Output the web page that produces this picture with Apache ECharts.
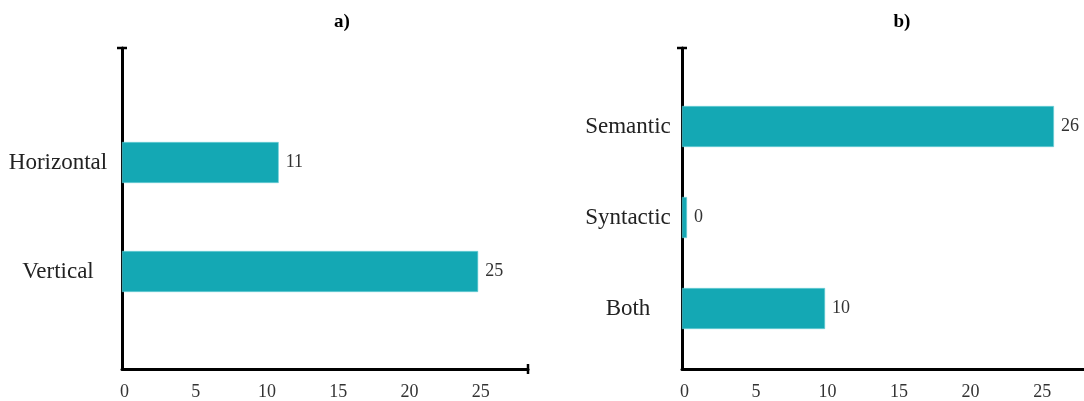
<!DOCTYPE html>
<html>
<head>
<meta charset="utf-8">
<script src="https://cdn.jsdelivr.net/npm/echarts@6/dist/echarts.min.js"></script>
<style>
html, body { margin: 0; padding: 0; background: #fff; }
#main { width: 1084px; height: 401px; }
</style>
</head>
<body>
<div id="main"></div>
<script>
// panel a)
var orientCategories = ['Vertical', 'Horizontal'];
var orientValues = [25, 11];
// panel b)
var typeCategories = ['Both', 'Syntactic', 'Semantic'];
var typeValues = [10, 0, 26];
var xTickInterval = 5;

var FONT = '"Liberation Serif", "DejaVu Serif", serif';
var BAR_COLOR = '#14a8b4';

function lineAxis(gridIndex, max, isX, endMark) {
	var ax = {
		type: 'value',
		gridIndex: gridIndex,
		min: 0,
		max: max,
		splitLine: { show: false },
		axisTick: { show: false },
		axisLine: {
			show: true,
			symbol: ['none', endMark ? 'rect' : 'none'],
			symbolSize: [10, 2.5],
			lineStyle: { color: '#000', width: 3 }
		},
		axisLabel: { show: false }
	};
	if (isX) {
		ax.interval = xTickInterval;
		ax.axisLabel = {
			show: true,
			showMaxLabel: false,
			margin: 14,
			padding: [0, 0, 0, 5],
			fontFamily: FONT,
			fontSize: 18,
			color: '#333'
		};
	}
	return ax;
}

function hiddenX(gridIndex, max) {
	return {
		type: 'value', gridIndex: gridIndex, min: 0, max: max, show: false
	};
}

function catAxis(gridIndex, data, margin) {
	return {
		type: 'category',
		gridIndex: gridIndex,
		data: data,
		axisLine: { show: false },
		axisTick: { show: false },
		axisLabel: {
			margin: margin,
			align: 'center',
			fontFamily: FONT,
			fontSize: 23,
			color: '#222'
		}
	};
}

function barSeries(xi, yi, values) {
	return {
		type: 'bar',
		xAxisIndex: xi,
		yAxisIndex: yi,
		data: values,
		barWidth: 41,
		barMinHeight: 5,
		itemStyle: { color: BAR_COLOR, borderColor: '#6fd0d8', borderWidth: 0.6 },
		label: {
			show: true,
			position: 'right',
			distance: 7,
			fontFamily: FONT,
			fontSize: 18,
			color: '#333'
		},
		silent: true
	};
}

var maxA = 28.5;
var maxB = 28.1;

var option = {
	backgroundColor: '#fff',
	animation: false,
	title: [
		{ text: 'a)', left: 337, top: 8, textAlign: 'center',
		  textStyle: { fontFamily: FONT, fontWeight: 'bold', fontSize: 19, color: '#000' } },
		{ text: 'b)', left: 897, top: 8, textAlign: 'center',
		  textStyle: { fontFamily: FONT, fontWeight: 'bold', fontSize: 19, color: '#000' } }
	],
	grid: [
		// axis frames
		{ left: 122, top: 48, width: 406, height: 322 },
		{ left: 682, top: 48, width: 402, height: 322 },
		// bar areas
		{ left: 122, top: 108, width: 406, height: 218 },
		{ left: 682, top: 81, width: 402, height: 273 }
	],
	xAxis: [
		lineAxis(0, maxA, true, true),
		lineAxis(1, maxB, true, false),
		hiddenX(2, maxA),
		hiddenX(3, maxB)
	],
	yAxis: [
		lineAxis(0, 1, false, true),
		lineAxis(1, 1, false, true),
		catAxis(2, orientCategories, 64),
		catAxis(3, typeCategories, 54)
	],
	series: [
		barSeries(2, 2, orientValues),
		barSeries(3, 3, typeValues)
	]
};

var chart = echarts.init(document.getElementById('main'), null, { renderer: 'canvas' });
chart.setOption(option);
</script>
</body>
</html>
